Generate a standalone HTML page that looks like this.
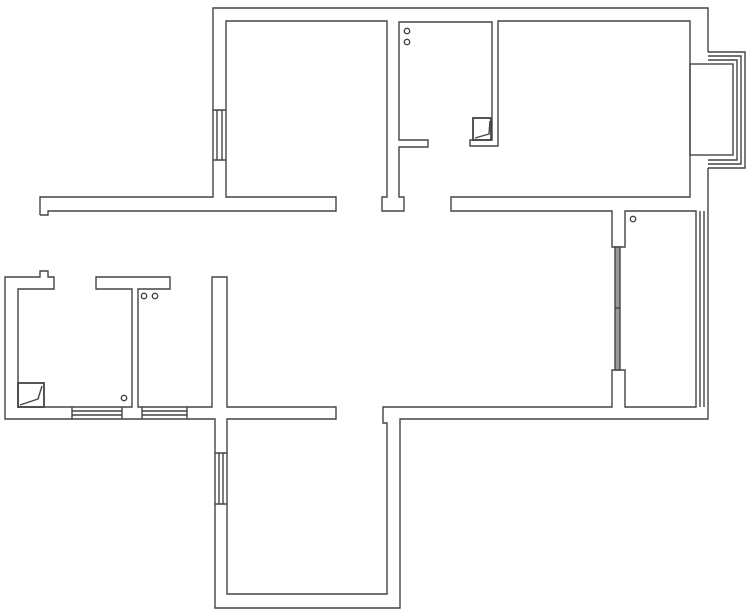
<!DOCTYPE html>
<html><head><style>html,body{margin:0;padding:0;background:#fff;}svg{display:block;}</style></head>
<body>
<svg width="750" height="612" viewBox="0 0 750 612" xmlns="http://www.w3.org/2000/svg" fill="none" stroke="#444" stroke-width="1.4">
<path d="M40,215 V197 H213 V8 H708 V52 M708,168 V419 H400 V608 H215 V419 H5 V277 H40 V271 H48 V277 H54 V289 H18 V407 H132 V289 H96 V277 H170 V289 H138 V407 H212 V277 H227 V407 H336 V419 H227 V594 H387 V423 H383 V407 H612 V370 H625 V407 H696 V211 H625 V247 H612 V211 H451 V197 H690 V21 H498 V146 H470 V140 H492 V22 H399 V140 H428 V147 H399 V197 H404 V211 H382 V197 H387 V21 H226 V197 H336 V211 H48 V215 H40"/>
<!-- bay window -->
<path d="M708,52 H745 V168 H708 M708,56 H741 V164 H708 M708,60 H737 V160 H708"/>
<rect x="690" y="64" width="43" height="91"/>
<!-- right balcony lines -->
<path d="M700,211 V407 M704,211 V407"/>
<!-- sliding door -->
<rect x="615" y="247" width="5" height="123" fill="#999"/>
<path d="M615,308 H620" />
<!-- windows -->
<path d="M213,110 H226 M213,160 H226 M217,110 V160 M222,110 V160"/>
<path d="M215,453 H227 M215,504 H227 M219,453 V504 M223,453 V504"/>
<path d="M72,407 V419 M122,407 V419 M72,411 H122 M72,415 H122"/>
<path d="M142,407 V419 M187,407 V419 M142,411 H187 M142,415 H187"/>
<!-- fixtures -->
<circle cx="407" cy="31" r="2.7"/><circle cx="407" cy="42" r="2.7"/>
<circle cx="144" cy="296" r="2.7"/><circle cx="155" cy="296" r="2.7"/>
<circle cx="124" cy="398" r="2.7"/>
<circle cx="633" cy="219" r="2.7"/>
<rect x="18" y="383" width="26" height="24" stroke-width="1.8"/>
<path d="M20,405 L38,399 L42,386"/>
<rect x="473" y="118" width="18" height="22" stroke-width="1.8"/>
<path d="M475,138 L489,134 L490,121"/>
</svg>
</body></html>
